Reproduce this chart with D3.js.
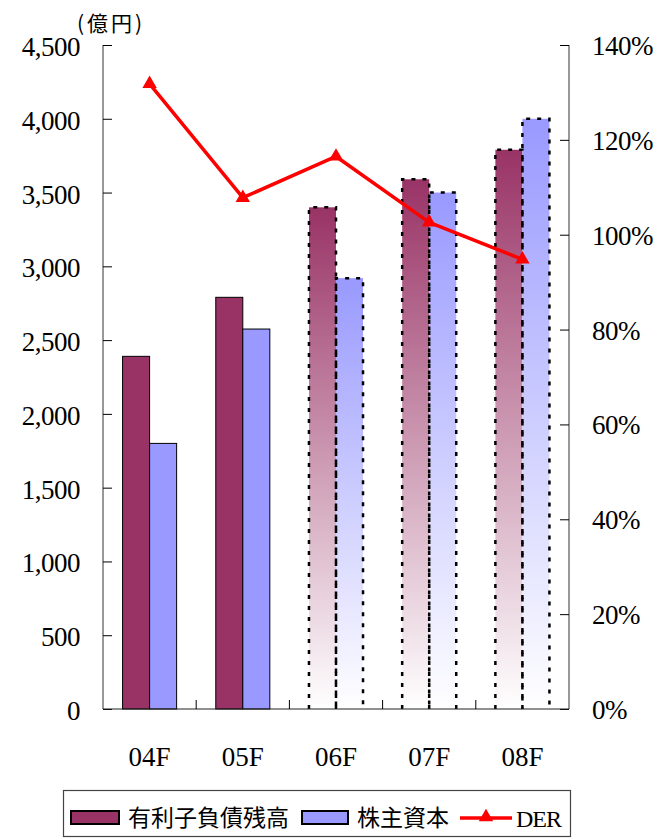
<!DOCTYPE html>
<html>
<head>
<meta charset="utf-8">
<script src="https://cdn.jsdelivr.net/npm/d3@7"></script>
<style>
  html, body { margin: 0; padding: 0; background: #fff; }
  svg { display: block; }
  .num { font-family: "Liberation Serif", "Times New Roman", serif; fill: #000; }
  .jp { font-family: "Noto Sans CJK JP", "Noto Sans", sans-serif; fill: #000; }
</style>
</head>
<body>
<svg id="chart" width="656" height="840"></svg>
<script>
// Fiscal years (F = forecast from 06F on)
const categories = ["04F", "05F", "06F", "07F", "08F"];
const forecast = [false, false, true, true, true];
// 有利子負債残高 (億円)
const debt = [2390, 2790, 3400, 3590, 3790];
// 株主資本 (億円)
const equity = [1800, 2575, 2920, 3500, 4000];
// DER (%)
const der = [131.8, 107.8, 116.5, 102.6, 94.8];

const leftTicks = [0, 500, 1000, 1500, 2000, 2500, 3000, 3500, 4000, 4500];
const rightTicks = [0, 20, 40, 60, 80, 100, 120, 140];

const seriesNames = ["有利子負債残高", "株主資本", "DER"];
const seriesColors = ["#993366", "#9999FF", "#FF0000"];

const svg = d3.select("#chart");
const plot = { left: 103, right: 569, top: 45, bottom: 709 };

const x = d3.scaleBand().domain(categories).range([plot.left, plot.right]).padding(0);
const bw = x.bandwidth();
const x1 = d3.scaleBand().domain(["debt", "equity"]).range([bw * 0.21, bw * 0.79]).padding(0);
const y = d3.scaleLinear().domain([0, 4500]).range([plot.bottom, plot.top]);
const yR = d3.scaleLinear().domain([0, 140]).range([plot.bottom, plot.top]);

// Vertical fades used by the forecast bars
const defs = svg.append("defs");
[["fadeDebt", seriesColors[0]], ["fadeEquity", seriesColors[1]]].forEach(([id, c]) => {
  const g = defs.append("linearGradient").attr("id", id)
    .attr("x1", 0).attr("y1", 0).attr("x2", 0).attr("y2", 1);
  g.append("stop").attr("offset", 0).attr("stop-color", c);
  g.append("stop").attr("offset", 1).attr("stop-color", "#ffffff");
});

// Bars
const rows = categories.map((c, i) => ({ c, i, f: forecast[i],
  items: [{ k: "debt", v: debt[i] }, { k: "equity", v: equity[i] }] }));

const groups = svg.append("g").selectAll("g").data(rows).join("g")
  .attr("transform", d => `translate(${x(d.c)},0)`);

const barItems = d => d.items.map(it => ({ ...it, f: d.f }));

groups.selectAll("rect").data(barItems).join("rect")
  .attr("x", d => x1(d.k))
  .attr("y", d => y(d.v))
  .attr("width", x1.bandwidth())
  .attr("height", d => y(0) - y(d.v))
  .attr("fill", d => d.f ? (d.k === "debt" ? "url(#fadeDebt)" : "url(#fadeEquity)")
                         : (d.k === "debt" ? seriesColors[0] : seriesColors[1]))
  .attr("stroke", d => d.f ? "none" : "#000")
  .attr("stroke-width", 1);

// Forecast bars: dotted outline on sides and top only
groups.filter(d => d.f).selectAll("path.outline").data(barItems).join("path")
  .attr("class", "outline")
  .attr("d", d => {
    const x0 = x1(d.k), x2 = x0 + x1.bandwidth();
    return `M${x0},${y(0)}V${y(d.v)}H${x2}V${y(0)}`;
  })
  .attr("fill", "none")
  .attr("stroke", "#000")
  .attr("stroke-width", 2.5)
  .attr("stroke-dasharray", "4 7");

// Left axis (億円)
const axL = svg.append("g").attr("transform", `translate(${plot.left},0)`)
  .call(d3.axisRight(y).tickValues(leftTicks).tickSize(9).tickFormat(""));
axL.select(".domain").attr("stroke", "#333").attr("d", `M0,${plot.top}V${plot.bottom}`);
axL.selectAll(".tick line").attr("stroke", "#000");

svg.append("g").selectAll("text").data(leftTicks).join("text")
  .attr("class", "num")
  .attr("x", 80).attr("y", d => y(d) + 11)
  .attr("text-anchor", "end")
  .attr("font-size", 27)
  .attr("letter-spacing", -0.5)
  .text(d => d3.format(",")(d));

// Right axis (%)
const axR = svg.append("g").attr("transform", `translate(${plot.right},0)`)
  .call(d3.axisLeft(yR).tickValues(rightTicks).tickSize(9).tickFormat(""));
axR.select(".domain").attr("stroke", "#333").attr("d", `M0,${plot.top}V${plot.bottom}`);
axR.selectAll(".tick line").attr("stroke", "#000");

svg.append("g").selectAll("text").data(rightTicks).join("text")
  .attr("class", "num")
  .attr("x", 592).attr("y", d => yR(d) + 10)
  .attr("text-anchor", "start")
  .attr("font-size", 27)
  .attr("letter-spacing", -0.5)
  .text(d => d + "%");

// Category axis with boundary ticks
const axB = svg.append("g").attr("transform", `translate(0,${plot.bottom})`);
axB.append("line").attr("x1", plot.left).attr("x2", plot.right)
  .attr("stroke", "#222").attr("stroke-width", 1.2);
axB.selectAll("line.sep").data(categories.slice(1)).join("line")
  .attr("class", "sep")
  .attr("x1", d => x(d)).attr("x2", d => x(d))
  .attr("y1", 0).attr("y2", -9).attr("stroke", "#000");

svg.append("g").selectAll("text").data(categories).join("text")
  .attr("class", "num")
  .attr("x", d => x(d) + bw / 2).attr("y", 766)
  .attr("text-anchor", "middle")
  .attr("font-size", 27)
  .text(d => d);

// Unit label
svg.append("text").attr("class", "jp")
  .attr("x", 77).attr("y", 31)
  .attr("font-size", 21).attr("letter-spacing", 3)
  .text("(億円)");

// DER line with triangle markers
const pts = categories.map((c, i) => [x(c) + bw / 2, yR(der[i])]);
svg.append("path")
  .attr("d", d3.line()(pts))
  .attr("fill", "none").attr("stroke", seriesColors[2])
  .attr("stroke-width", 3.5).attr("stroke-linejoin", "round");
svg.append("g").selectAll("path").data(pts).join("path")
  .attr("transform", d => `translate(${d[0]},${d[1]})`)
  .attr("d", d3.symbol(d3.symbolTriangle, 90)())
  .attr("fill", seriesColors[2]);

// Legend
const lg = svg.append("g");
lg.append("rect").attr("x", 63.5).attr("y", 790.5).attr("width", 507).attr("height", 46)
  .attr("fill", "#fff").attr("stroke", "#444").attr("stroke-width", 1.2);

lg.append("rect").attr("x", 71).attr("y", 811).attr("width", 48).attr("height", 13)
  .attr("fill", seriesColors[0]).attr("stroke", "#000").attr("stroke-width", 2);
lg.append("text").attr("class", "jp").attr("x", 128).attr("y", 826)
  .attr("font-size", 23).text(seriesNames[0]);

lg.append("rect").attr("x", 302).attr("y", 811).attr("width", 46).attr("height", 13)
  .attr("fill", seriesColors[1]).attr("stroke", "#000").attr("stroke-width", 2);
lg.append("text").attr("class", "jp").attr("x", 357).attr("y", 826)
  .attr("font-size", 23).text(seriesNames[1]);

lg.append("line").attr("x1", 460).attr("x2", 512).attr("y1", 818).attr("y2", 818)
  .attr("stroke", seriesColors[2]).attr("stroke-width", 3.5);
lg.append("path").attr("transform", "translate(486,817)")
  .attr("d", d3.symbol(d3.symbolTriangle, 90)())
  .attr("fill", seriesColors[2]);
lg.append("text").attr("class", "num").attr("x", 516).attr("y", 827)
  .attr("font-size", 24).attr("letter-spacing", -1).text(seriesNames[2]);
</script>
</body>
</html>
